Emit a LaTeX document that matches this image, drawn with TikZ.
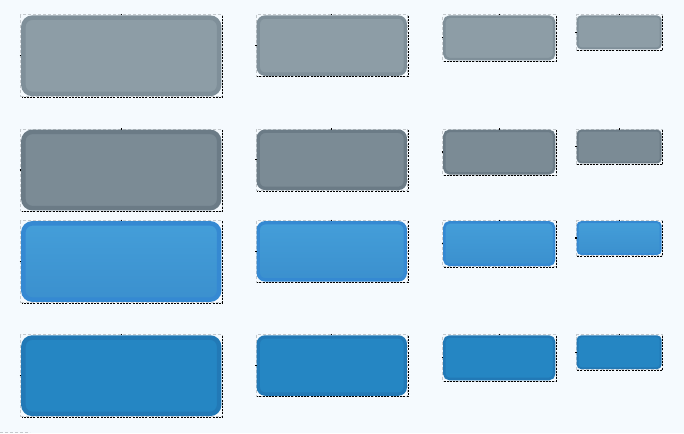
\documentclass[tikz,border=0pt]{standalone}
\usetikzlibrary{calc}
\definecolor{bg}{HTML}{F5FAFE}
\definecolor{framegray}{HTML}{C4C9CD}
\definecolor{gfillA}{HTML}{8D9DA6}
\definecolor{gbordA}{HTML}{7F8F99}
\definecolor{gfillB}{HTML}{7B8B95}
\definecolor{gbordB}{HTML}{6B7B86}
\definecolor{btopC}{HTML}{449ED9}
\definecolor{bbotC}{HTML}{3B90CE}
\definecolor{bbordC}{HTML}{3589D2}
\definecolor{bfillD}{HTML}{2586C3}
\definecolor{bbordD}{HTML}{2279B6}
\tikzset{
  framebox/.style={draw=framegray, line width=0.7pt, dash pattern=on 3pt off 2pt, inner sep=0pt, outer sep=0pt},
  shadowline/.style={draw=black, line width=1pt, dash pattern=on 2pt off 1.2pt},
  tickmark/.style={draw=black, line width=1.2pt},
  btnA/.style={fill=gfillA, draw=gbordA, inner sep=0pt, outer sep=0pt},
  btnB/.style={fill=gfillB, draw=gbordB, inner sep=0pt, outer sep=0pt},
  btnC/.style={top color=btopC, bottom color=bbotC, draw=bbordC, inner sep=0pt, outer sep=0pt},
  btnD/.style={fill=bfillD, draw=bbordD, inner sep=0pt, outer sep=0pt},
}
\newcommand\mybtn[5]{%
  \pgfmathsetmacro\bw{201.5*#4}%
  \pgfmathsetmacro\bh{82*#4}%
  \pgfmathsetmacro\bl{4.5*#4}%
  \pgfmathsetmacro\br{9*#4}%
  \pgfmathsetmacro\iw{\bw-\bl-1.2}%
  \pgfmathsetmacro\ih{\bh-\bl-1.2}%
  \node[framebox, minimum width=\bw pt, minimum height=\bh pt, anchor=north west] (#1) at (#2,#3) {};
  \node[#5, line width=\bl pt, rounded corners=\br pt, minimum width=\iw pt, minimum height=\ih pt, anchor=center] (#1b) at (#1.center) {};
  \draw[shadowline] ([xshift=0.5pt,yshift=-0.8pt]#1.north east) -- ([xshift=0.5pt,yshift=-0.5pt]#1.south east) -- ([xshift=1pt,yshift=-0.5pt]#1.south west);
  \draw[tickmark] ([yshift=0.9pt]#1.north) -- ([yshift=-0.6pt]#1.north);
  \draw[tickmark] ([xshift=-0.9pt]#1.west) -- ([xshift=0.6pt]#1.west);
}
\begin{document}
\begin{tikzpicture}[x=1pt,y=-1pt]
\fill[bg] (0,0) rectangle (684,433);
\useasboundingbox (0,0) rectangle (684,433);
% row 1
\mybtn{raa}{20.5}{14.8}{1}{btnA}
\mybtn{rab}{256}{14.8}{0.752}{btnA}
\mybtn{rac}{442.5}{14.8}{0.563}{btnA}
\mybtn{rad}{576}{14.8}{0.428}{btnA}
% row 2
\mybtn{rba}{20.5}{129}{1}{btnB}
\mybtn{rbb}{256}{129}{0.752}{btnB}
\mybtn{rbc}{442.5}{129}{0.563}{btnB}
\mybtn{rbd}{576}{129}{0.428}{btnB}
% row 3
\mybtn{rca}{20.5}{220.5}{1}{btnC}
\mybtn{rcb}{256}{220.5}{0.752}{btnC}
\mybtn{rcc}{442.5}{220.5}{0.563}{btnC}
\mybtn{rcd}{576}{220.5}{0.428}{btnC}
% row 4
\mybtn{rda}{20.5}{334.7}{1}{btnD}
\mybtn{rdb}{256}{334.7}{0.752}{btnD}
\mybtn{rdc}{442.5}{334.7}{0.563}{btnD}
\mybtn{rdd}{576}{334.7}{0.428}{btnD}
% fragment of a frame at the lower left
\coordinate (fa) at (0,432);
\coordinate (fb) at (30,432);
\draw[framegray, line width=0.8pt, dash pattern=on 3pt off 2pt] (fa) -- (fb);
\end{tikzpicture}
\end{document}
